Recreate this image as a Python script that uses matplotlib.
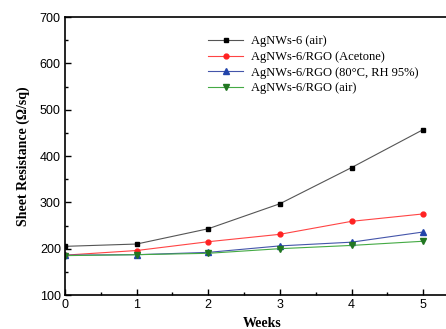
import matplotlib
matplotlib.use("Agg")
import matplotlib.pyplot as plt
from matplotlib.ticker import MultipleLocator

weeks = [0, 1, 2, 3, 4, 5]
agnws_air = [205, 210, 243, 297, 375, 457]
rgo_acetone = [186, 196, 215, 231, 259, 275]
rgo_humid = [186, 187, 192, 206, 214, 236]
rgo_air = [185, 187, 190, 200, 207, 216]
labels = ["AgNWs-6 (air)", "AgNWs-6/RGO (Acetone)",
          "AgNWs-6/RGO (80°C, RH 95%)", "AgNWs-6/RGO (air)"]

fig = plt.figure(figsize=(4.46, 3.29), dpi=100)
ax = fig.add_axes([65/446, 1-295/329, 394/446, 278/329])

ax.plot(weeks, agnws_air, color="#555555", lw=0.8, marker="s", ms=3.5,
        mfc="black", mec="black", label=labels[0])
ax.plot(weeks, rgo_acetone, color="#ff4444", lw=0.8, marker="o", ms=3.5,
        mfc="#ff2222", mec="#ff2222", label=labels[1])
ax.plot(weeks, rgo_humid, color="#4455aa", lw=0.8, marker="^", ms=4,
        mfc="#2244aa", mec="#2244aa", label=labels[2])
ax.plot(weeks, rgo_air, color="#44aa44", lw=0.8, marker="v", ms=4,
        mfc="#227722", mec="#227722", label=labels[3])

ax.set_xlim(0, 5.5)
ax.set_ylim(100, 700)
ax.xaxis.set_major_locator(MultipleLocator(1))
ax.xaxis.set_minor_locator(MultipleLocator(0.5))
ax.yaxis.set_major_locator(MultipleLocator(100))
ax.yaxis.set_minor_locator(MultipleLocator(50))
ax.tick_params(which="both", direction="in", width=1)
ax.tick_params(which="major", length=4, labelsize=9, pad=3)
ax.tick_params(which="minor", length=2.5)
for lab in ax.get_xticklabels() + ax.get_yticklabels():
    lab.set_fontfamily("Liberation Sans")
for s in ax.spines.values():
    s.set_linewidth(1.2)

ax.set_ylabel("Sheet Resistance (Ω/sq)", fontfamily="Liberation Serif",
              fontweight="bold", fontsize=10, labelpad=7)
ax.set_xlabel("Weeks", fontfamily="Liberation Serif", fontweight="bold",
              fontsize=10, labelpad=4)

leg = ax.legend(loc="upper left", bbox_to_anchor=(0.335, 0.975), frameon=False,
                prop={"family": "Liberation Serif", "size": 9},
                handlelength=2.8, labelspacing=0.3, handletextpad=0.6)

fig.savefig("out.png", dpi=100)
